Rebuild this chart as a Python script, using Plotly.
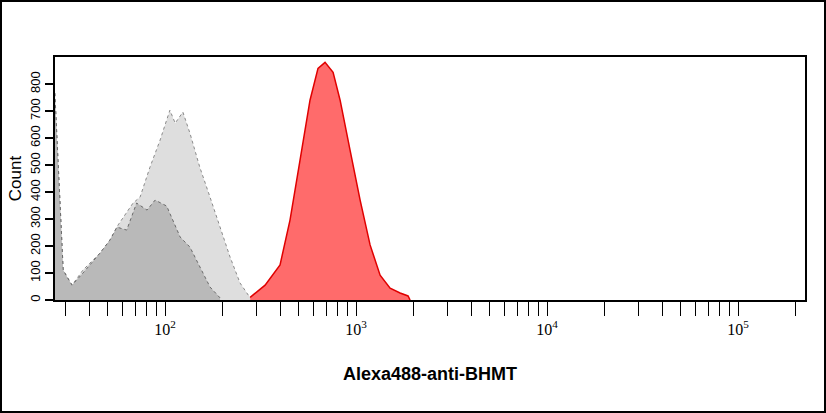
import plotly.graph_objects as go

light_x = [26.5, 29.3, 32.6, 37.2, 45.7, 51.5, 56.8, 68, 74, 83.4, 94.2, 106, 113, 124, 135, 152, 172, 194, 219, 247, 279]
light_y = [766, 111, 55, 111, 174, 222, 278, 359, 381, 492, 592, 703, 655, 696, 618, 492, 381, 270, 159, 63, 8]

dark_x = [26.5, 29.3, 30.7, 32.6, 37.2, 45.7, 51.5, 56, 63, 71, 80.5, 88.7, 102, 110, 120, 135, 152, 172, 194]
dark_y = [766, 111, 85, 55, 100, 174, 222, 270, 259, 359, 333, 370, 348, 296, 233, 196, 122, 48, 8]

red_x = [279, 334, 400, 451, 509, 574, 632, 688, 758, 825, 930, 1050, 1184, 1336, 1507, 1700, 1871, 1918]
red_y = [10, 55, 130, 296, 518, 740, 858, 880, 843, 740, 555, 370, 204, 92, 44, 26, 15, 0]

y_ticks = [0, 100, 200, 300, 400, 500, 600, 700, 800]
x_major = [100, 1000, 10000, 100000]
x_major_labels = ["10<sup>2</sup>", "10<sup>3</sup>", "10<sup>4</sup>", "10<sup>5</sup>"]

minor = []
for dec in [10, 100, 1000, 10000, 100000]:
    for m in range(2, 10):
        v = dec * m
        if 26.5 <= v <= 224000:
            minor.append(v)

fig = go.Figure()
fig.add_trace(go.Scatter(x=light_x, y=light_y, fill="tozeroy", mode="lines",
                         fillcolor="#dedede", line=dict(color="#8a8a8a", width=1, dash="dot")))
fig.add_trace(go.Scatter(x=dark_x, y=dark_y, fill="tozeroy", mode="lines",
                         fillcolor="#b9b9b9", line=dict(color="#6a6a6a", width=1, dash="dot")))
fig.add_trace(go.Scatter(x=red_x, y=red_y, fill="tozeroy", mode="lines",
                         fillcolor="#ff6b6b", line=dict(color="#e00000", width=1.5)))

fig.update_layout(
    width=826, height=413, showlegend=False,
    margin=dict(l=55, r=21, t=57, b=113),
    paper_bgcolor="white", plot_bgcolor="white",
    font=dict(family="Liberation Sans", color="black"),
    xaxis=dict(type="log", range=[1.424, 5.35], tickvals=x_major, ticktext=x_major_labels,
               ticks="outside", ticklen=14, tickwidth=1, tickcolor="black",
               minor=dict(tickvals=minor, ticks="outside", ticklen=14, tickwidth=1, tickcolor="black", showgrid=False),
               showgrid=False, zeroline=False, showline=True, linecolor="black", automargin=False,
               linewidth=2, mirror=True, tickfont=dict(size=16, family="Liberation Sans Narrow"),
               title=dict(text="<b>Alexa488-anti-BHMT</b>", font=dict(size=18, family="Liberation Sans"), standoff=30)),
    yaxis=dict(range=[0, 900], tickvals=y_ticks, ticktext=[str(v) for v in y_ticks],
               ticks="outside", ticklen=8, tickwidth=2, tickcolor="black", tickangle=-90,
               showgrid=False, zeroline=False, showline=True, linecolor="black", automargin=False,
               linewidth=2, mirror=True, tickfont=dict(size=13),
               title=dict(text="Count", font=dict(size=17), standoff=2)),
    shapes=[dict(type="rect", xref="paper", yref="paper",
                 x0=(1 - 55) / 750, x1=(825 - 55) / 750, y0=(300 - 412) / 243, y1=(300 - 1) / 243,
                 line=dict(color="black", width=2), fillcolor="rgba(0,0,0,0)")],
)
fig.write_html("out.html", config={"displayModeBar": False},
               post_script="document.body.style.margin='0';document.body.style.overflow='hidden';")
